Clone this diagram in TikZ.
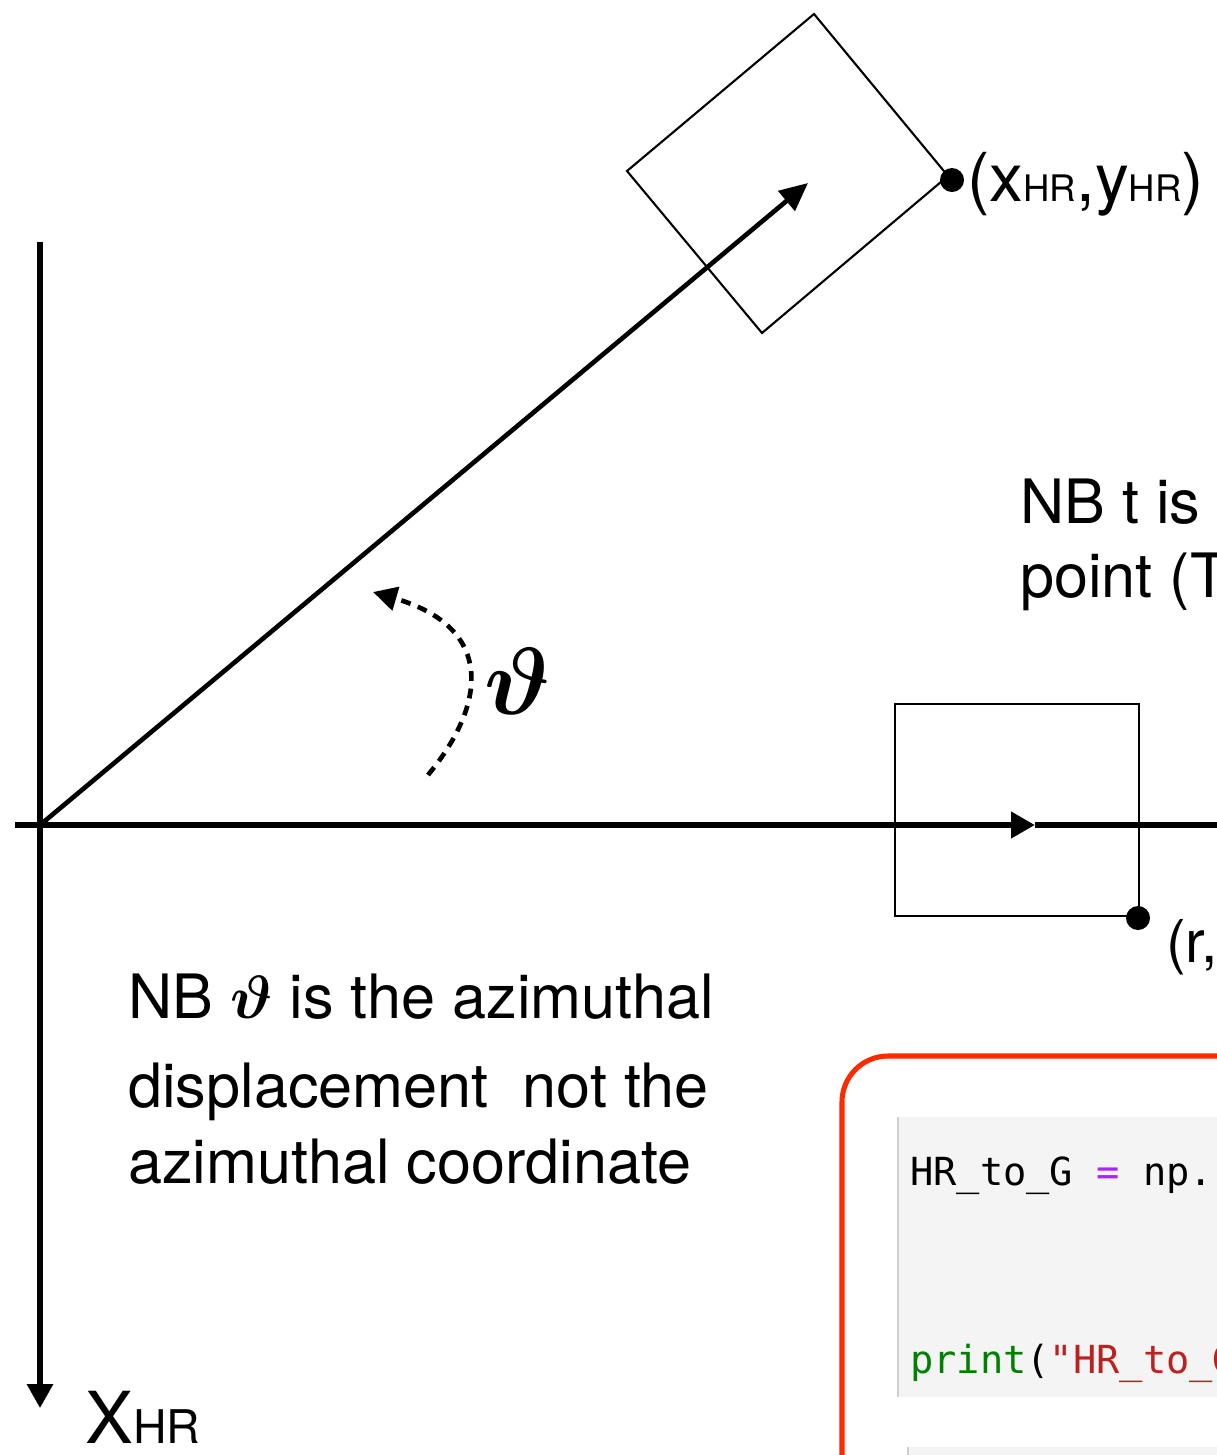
\documentclass[tikz,border=0pt]{standalone}
\usepackage{fix-cm}
\usepackage{amsmath,amssymb,bm}
\usepackage{fontspec}
\setmainfont{TeX Gyre Heros}
\newfontfamily\codefont{DejaVu Sans Mono}
\usetikzlibrary{arrows.meta}
\definecolor{ink}{HTML}{000000}
\definecolor{frame}{HTML}{FF2A00}
\definecolor{cellbg}{HTML}{F4F4F4}
\definecolor{cellrule}{HTML}{CFCFCF}
\definecolor{kwgreen}{HTML}{008000}
\definecolor{strred}{HTML}{BA2121}
\definecolor{oppurple}{HTML}{AA22FF}
\newcommand{\fs}[1]{\fontsize{#1}{1.2\dimexpr#1pt\relax}\selectfont}
\newcommand{\hrsub}[1]{{\fontsize{#1}{#1}\selectfont HR}}

\begin{document}
\begin{tikzpicture}[
  x=0.025cm, y=-0.025cm,
  axisline/.style={
    ink,
    line width=4.3pt,
    -{Triangle[length=17pt,width=18pt]}
  },
  radius/.style={
    ink,
    line width=3.3pt,
    -{Triangle[length=20pt,width=18pt]}
  },
  box/.style={
    ink,
    line width=1.5pt
  },
  corner/.style={
    circle,
    fill=ink,
    minimum size=0.6cm,
    inner sep=0pt
  },
  swing/.style={
    ink,
    line width=3.3pt,
    dash pattern=on 7pt off 5.5pt,
    -{Triangle[length=17pt,width=17pt]}
  },
  note/.style={
    anchor=base west,
    inner sep=0pt,
    font=\fs{43.5}
  },
  code/.style={
    anchor=base west,
    inner sep=0pt,
    font=\codefont\fs{27.5}
  }
]

\useasboundingbox (0,0) rectangle (1217,1455);
\clip (0,0) rectangle (1217,1455);

% axes
\coordinate (O)     at (40,825);
\coordinate (xfrom) at (15,825);
\coordinate (xtip)  at (1035,825);
\coordinate (xend)  at (1240,825);
\coordinate (yfrom) at (40,242);
\coordinate (ytip)  at (40,1408);
\coordinate (rtip)  at (808,183);

\draw[axisline] (xfrom) -- (xtip);
\draw[ink,line width=3.6pt] (xtip) -- (xend);
\draw[axisline,line width=3.6pt] (yfrom) -- (ytip);
\draw[radius] (O) -- (rtip);

% rotated rectangle
\coordinate (a1) at (948,176);
\coordinate (a2) at (762,333);
\coordinate (a3) at (627,171);
\coordinate (a4) at (814,14);
\draw[box] (a1) -- (a2) -- (a3) -- (a4) -- cycle;

% rectangle on the axis
\coordinate (b1) at (1139,916);
\coordinate (b2) at (895,704);
\draw[box] (b1) rectangle (b2);

\node[corner] (hr) at (952,180) {};
\node[corner] (rt) at (1138,918) {};

\node[anchor=base west,inner sep=0pt,font=\fs{48}] (hrlbl) at (967,201)
  {(x\hrsub{26},y\hrsub{26})};
\node[anchor=base west,inner sep=0pt,font=\fs{42}] (rtlbl) at (1166,962)
  {(r,};
\node[anchor=base west,inner sep=0pt,font=\fs{51}] (xhr) at (85,1443)
  {X\hrsub{33}};

% angle
\coordinate (s0) at (428,775);
\coordinate (s1) at (373,592);
\draw[swing] (s0) .. controls (486,705) and (496,628) .. (s1);
\node[font=\fs{68}] (theta) at (518,681) {$\bm{\vartheta}$};

% notes
\node[note] (nt1) at (1020,523) {NB t is};
\node[note] (nt2) at (1020,597) {point (T};

\node[note] (nb1) at (128,1018) {NB $\bm{\vartheta}$ is the azimuthal};
\node[note] (nb2) at (128,1107) {displacement\ \ not the};
\node[note] (nb3) at (128,1183) {azimuthal coordinate};

% code cell
\draw[frame,line width=3.6pt,rounded corners=1.15cm]
  (842,1520) -- (842,1056) -- (1300,1056);
\fill[cellbg] (897,1117) rectangle (1240,1397);
\draw[cellrule,line width=2pt] (898,1117) -- (898,1397);
\fill[cellbg] (907,1447) rectangle (1240,1470);
\draw[cellrule,line width=2pt] (908,1447) -- (908,1470);

\node[code] (c1) at (910,1185)
  {HR\_to\_G {\color{oppurple}=} np.};
\node[code] (c2) at (910,1373)
  {{\color{kwgreen}print}({\color{strred}"HR\_to\_G}};

\end{tikzpicture}
\end{document}
